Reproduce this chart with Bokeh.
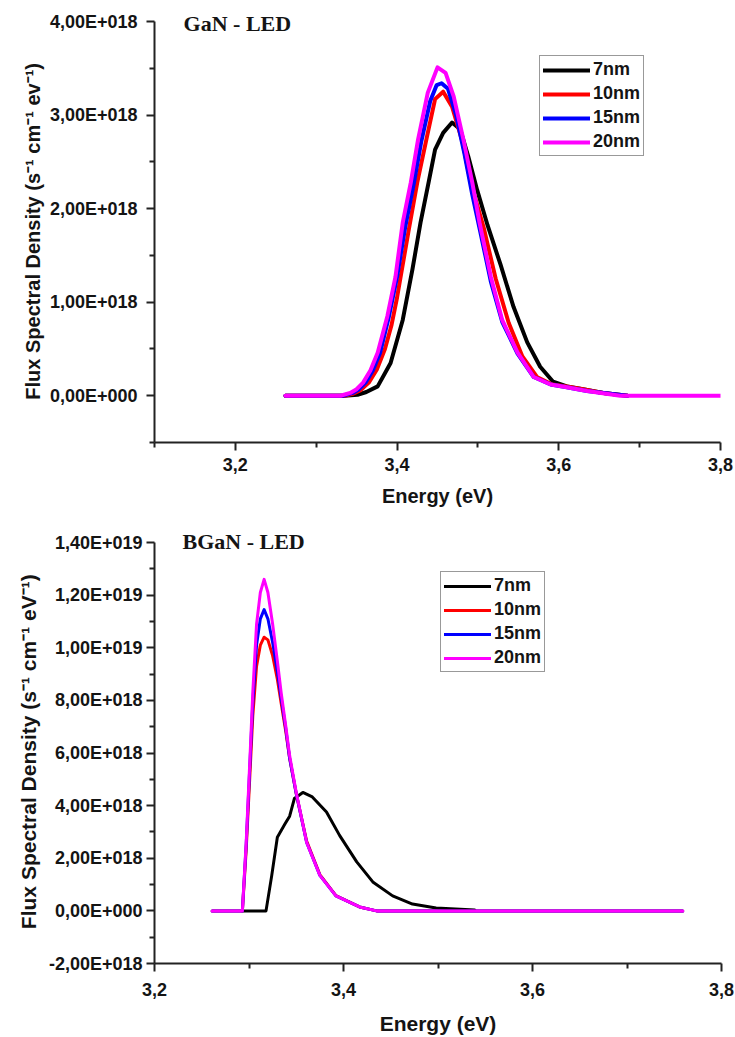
from bokeh.plotting import figure
from bokeh.models import FixedTicker, CustomJSTickFormatter, Label, Legend, LegendItem, Range1d
from bokeh.layouts import column
from bokeh.embed import file_html
from bokeh.resources import INLINE

# ---------------- data (values in units of 1E18) ----------------
SERIES = ["7nm", "10nm", "15nm", "20nm"]
COLORS = ["#000000", "#ff0000", "#0000ff", "#ff00ff"]
UNIT = 1e18

# GaN - LED
gan_e_7nm = [3.262, 3.335, 3.351, 3.362, 3.376, 3.392, 3.407, 3.419, 3.429, 3.439, 3.447, 3.457, 3.468,
             3.478, 3.488, 3.499, 3.512, 3.528, 3.544, 3.561, 3.577, 3.593, 3.610, 3.630, 3.655, 3.685]
gan_v_7nm = [0, 0, 0.01, 0.04, 0.10, 0.35, 0.81, 1.35, 1.85, 2.28, 2.63, 2.81, 2.92,
             2.85, 2.56, 2.20, 1.82, 1.40, 0.95, 0.57, 0.31, 0.15, 0.10, 0.07, 0.03, 0.0]

gan_e_10nm = [3.262, 3.335, 3.345, 3.355, 3.365, 3.375, 3.385, 3.393, 3.400, 3.407, 3.414, 3.425, 3.437, 3.447,
              3.457, 3.468, 3.481, 3.491, 3.507, 3.522, 3.538, 3.555, 3.573, 3.592, 3.610, 3.630, 3.655, 3.685]
gan_v_10nm = [0, 0, 0.02, 0.06, 0.14, 0.28, 0.50, 0.75, 1.05, 1.40, 1.75, 2.28, 2.77, 3.17,
              3.25, 3.09, 2.71, 2.28, 1.80, 1.25, 0.78, 0.42, 0.20, 0.12, 0.10, 0.07, 0.03, 0.0]

gan_e_15nm = [3.262, 3.333, 3.345, 3.353, 3.361, 3.370, 3.379, 3.390, 3.400, 3.410, 3.421, 3.430, 3.441, 3.449,
              3.455, 3.463, 3.473, 3.483, 3.493, 3.503, 3.516, 3.530, 3.549, 3.569, 3.590, 3.610, 3.635, 3.685]
gan_v_15nm = [0, 0, 0.03, 0.07, 0.14, 0.27, 0.46, 0.85, 1.27, 1.80, 2.28, 2.72, 3.15, 3.32,
              3.34, 3.28, 3.00, 2.60, 2.15, 1.75, 1.22, 0.79, 0.45, 0.20, 0.12, 0.09, 0.05, 0.0]

gan_e_20nm = [3.262, 3.330, 3.342, 3.350, 3.358, 3.367, 3.376, 3.388, 3.398, 3.407, 3.417, 3.426, 3.438, 3.450,
              3.460, 3.470, 3.482, 3.493, 3.502, 3.516, 3.530, 3.549, 3.569, 3.590, 3.610, 3.635, 3.676, 3.800]
gan_v_20nm = [0, 0, 0.03, 0.07, 0.14, 0.27, 0.46, 0.85, 1.27, 1.85, 2.28, 2.74, 3.24, 3.51,
              3.45, 3.20, 2.74, 2.28, 1.85, 1.27, 0.81, 0.46, 0.20, 0.12, 0.09, 0.05, 0.0, 0.0]

# BGaN - LED
bgan_e_7nm = [3.293, 3.318, 3.324, 3.330, 3.338, 3.343, 3.348, 3.357, 3.367, 3.382, 3.396, 3.414, 3.431,
              3.452, 3.473, 3.498, 3.539]
bgan_v_7nm = [0, 0, 1.33, 2.8, 3.3, 3.6, 4.27, 4.5, 4.33, 3.76, 2.86, 1.86, 1.1,
              0.57, 0.26, 0.11, 0.03]

bgan_e = [3.261, 3.293, 3.297, 3.301, 3.304, 3.308, 3.312, 3.316, 3.320, 3.325, 3.330, 3.334, 3.339, 3.343,
          3.350, 3.361, 3.375, 3.392, 3.417, 3.435, 3.759]
bgan_v_10nm = [0, 0, 2.3, 5.2, 7.4, 9.3, 10.1, 10.4, 10.3, 9.7, 8.8, 7.9, 6.8, 5.8,
               4.45, 2.65, 1.38, 0.58, 0.15, 0.0, 0.0]
bgan_v_15nm = [0, 0, 2.5, 5.6, 7.9, 10.1, 11.1, 11.45, 11.1, 10.2, 9.1, 8.1, 6.9, 5.8,
               4.45, 2.6, 1.35, 0.57, 0.15, 0.0, 0.0]
bgan_v_20nm = [0, 0, 2.6, 5.8, 8.3, 10.9, 12.1, 12.6, 12.1, 10.9, 9.5, 8.3, 7.0, 5.9,
               4.5, 2.6, 1.35, 0.57, 0.15, 0.0, 0.0]

# ticks / axis extents (units of 1E18 for y)
gan_x_major = [3.2, 3.4, 3.6, 3.8]
gan_x_minor = [3.1, 3.3, 3.5, 3.7]
gan_y_major = [0, 1, 2, 3, 4]
gan_y_minor = [-0.5, 0.5, 1.5, 2.5, 3.5]
gan_y_axis = (-0.5, 4.0)
bgan_x_major = [3.2, 3.4, 3.6, 3.8]
bgan_x_minor = [3.3, 3.5, 3.7]
bgan_y_major = [-2, 0, 2, 4, 6, 8, 10, 12, 14]
bgan_y_minor = [-1, 1, 3, 5, 7, 9, 11, 13]
bgan_y_axis = (-2.0, 14.0)

SANS = "Liberation Sans"
SERIF = "Liberation Serif"
TXT = "#141414"
NB = "\u00a0"

Y_FMT = """
if (Math.abs(tick) < 1) { return "0,00E+000"; }
const sign = tick < 0 ? "-" : "";
const a = Math.abs(tick);
let e = Math.floor(Math.log10(a) + 1e-9);
let m = a / Math.pow(10, e);
if (m >= 9.995) { m = m / 10; e = e + 1; }
return sign + m.toFixed(2).replace(".", ",") + "E+" + String(e).padStart(3, "0");
"""
X_FMT = 'return tick.toFixed(1).replace(".", ",");'


def make_panel(title, title_xy, xr, yaxis_rng, extra_px, xmaj, xmin, ymaj, ymin, curves, ylabel,
               frame_w, borders, ylab_size, lw, legend_loc, ystand, xstand,
               xlab_stand, ylab_stand, xlab_size):
    bl, br, bt, bb = borders
    base_h = 421
    per_px = (yaxis_rng[1] - yaxis_rng[0]) / base_h
    ytop = yaxis_rng[1] + extra_px * per_px
    p = figure(frame_width=frame_w, frame_height=base_h + extra_px,
               min_border_left=bl, min_border_right=br, min_border_top=bt, min_border_bottom=bb,
               x_range=Range1d(*xr), y_range=Range1d(yaxis_rng[0] * UNIT, ytop * UNIT),
               output_backend="svg", toolbar_location=None)
    p.outline_line_color = None
    p.xgrid.visible = False
    p.ygrid.visible = False
    p.background_fill_color = "white"
    p.border_fill_color = "white"

    items = []
    for (e, v), name, col in zip(curves, SERIES, COLORS):
        r = p.line(list(e), [y * UNIT for y in v], line_color=col, line_width=lw,
                   line_join="round", line_cap="round")
        items.append(LegendItem(label=name, renderers=[r]))

    p.xaxis.ticker = FixedTicker(ticks=xmaj, minor_ticks=xmin)
    p.yaxis.ticker = FixedTicker(ticks=[t * UNIT for t in ymaj], minor_ticks=[t * UNIT for t in ymin])
    p.yaxis.bounds = (yaxis_rng[0] * UNIT, yaxis_rng[1] * UNIT)
    p.xaxis.formatter = CustomJSTickFormatter(code=X_FMT)
    p.yaxis.formatter = CustomJSTickFormatter(code=Y_FMT)

    for ax in (p.xaxis[0], p.yaxis[0]):
        ax.axis_line_color = "#222222"
        ax.axis_line_width = 2
        ax.major_tick_line_color = "#222222"
        ax.minor_tick_line_color = "#222222"
        ax.major_tick_line_width = 2
        ax.minor_tick_line_width = 2
        ax.major_tick_out = 8
        ax.major_tick_in = 0
        ax.minor_tick_out = 5
        ax.minor_tick_in = 0
        ax.major_label_text_font = SANS
        ax.major_label_text_font_style = "bold"
        ax.major_label_text_font_size = "18px"
        ax.major_label_text_color = TXT
        ax.axis_label_text_font = SANS
        ax.axis_label_text_font_style = "bold"
        ax.axis_label_text_color = TXT

    p.yaxis.major_label_standoff = ystand
    p.xaxis.major_label_standoff = xstand
    p.xaxis.axis_label = "Energy (eV)"
    p.xaxis.axis_label_text_font_size = xlab_size
    p.xaxis.axis_label_standoff = xlab_stand
    p.yaxis.axis_label = ylabel
    p.yaxis.axis_label_text_font_size = ylab_size
    p.yaxis.axis_label_standoff = ylab_stand

    p.add_layout(Label(x=title_xy[0], y=title_xy[1] * UNIT, text=title, text_font=SERIF,
                       text_font_style="bold", text_font_size="22px", text_color=TXT,
                       text_baseline="alphabetic"))

    leg = Legend(items=items, location=legend_loc)
    leg.border_line_color = "#333333"
    leg.border_line_width = 1.5
    leg.background_fill_color = "white"
    leg.background_fill_alpha = 1
    leg.label_text_font = SANS
    leg.label_text_font_style = "bold"
    leg.label_text_font_size = "18px"
    leg.label_text_color = TXT
    leg.glyph_width = 47
    leg.glyph_height = 20
    leg.label_height = 20
    leg.label_standoff = 3
    leg.spacing = 3
    leg.padding = 3
    leg.margin = 0
    p.add_layout(leg)
    return p


p1 = make_panel("GaN - LED", (3.136, 3.98), (3.1, 3.8), gan_y_axis, 18,
                gan_x_major, gan_x_minor, gan_y_major, gan_y_minor,
                [(gan_e_7nm, gan_v_7nm), (gan_e_10nm, gan_v_10nm),
                 (gan_e_15nm, gan_v_15nm), (gan_e_20nm, gan_v_20nm)],
                "Flux Spectral Density (s\u207b\u00b9 cm\u207b\u00b9 ev\u207b\u00b9)" + NB * 3,
                566, (153, 15, 3, 72), "20px", 4, (385, 286), 9, 7, 11, 3, "20px")

p2 = make_panel("BGaN - LED", (3.2296, 14.02), (3.2, 3.8), bgan_y_axis, 20,
                bgan_x_major, bgan_x_minor, bgan_y_major, bgan_y_minor,
                [(bgan_e_7nm, bgan_v_7nm), (bgan_e, bgan_v_10nm),
                 (bgan_e, bgan_v_15nm), (bgan_e, bgan_v_20nm)],
                "Flux Spectral Density (s\u207b\u00b9 cm\u207b\u00b9 eV\u207b\u00b9)" + NB * 3,
                567, (154, 13, 8, 70), "21px", 3, (286, 291), 4, 11, 13, 6, "21px")

layout = column(p1, p2, spacing=0)
open("out.html", "w").write(file_html(layout, INLINE))
